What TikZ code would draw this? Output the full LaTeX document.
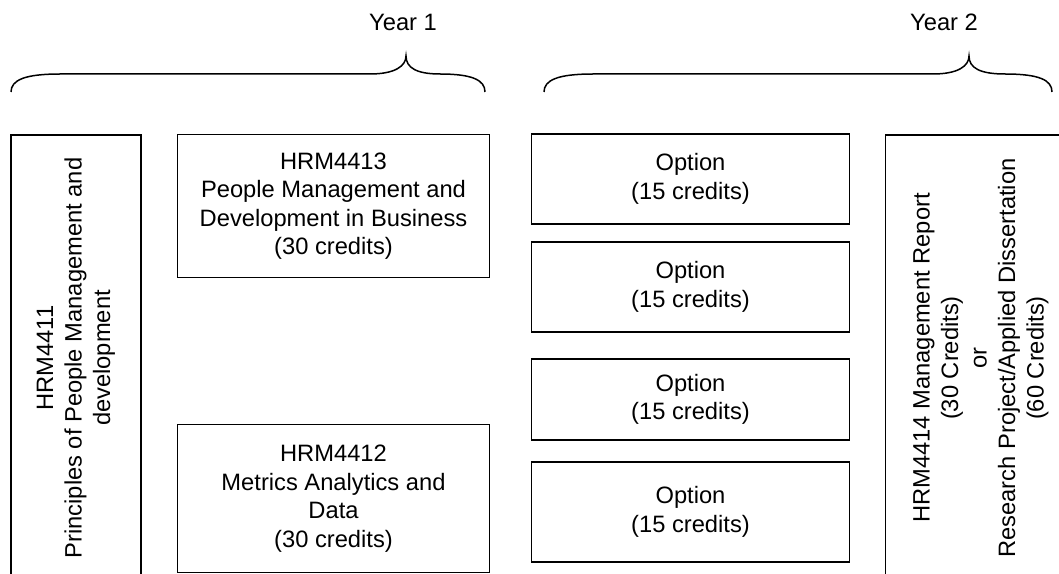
\documentclass[tikz,border=0pt]{standalone}
\usepackage{fontspec}
\setmainfont{Liberation Sans}
\begin{document}
\begin{tikzpicture}[x=1bp,y=-1bp,
  txt/.style={font=\fontsize{23.8}{28.6}\selectfont, align=center, inner sep=0pt},
  box/.style={txt, draw, line width=1.5bp},
  brace/.style={draw, line width=1.5bp}]
\useasboundingbox (0,0) rectangle (1059,574);
% year labels
\node[txt] (y1) at (403,22) {Year 1};
\node[txt] (y2) at (944,22) {Year 2};
% braces
\path[brace] (11,92) .. controls (11,80) and (25,74) .. (60,74) -- (370,74)
  .. controls (395,74) and (406,66) .. (406,56)
  .. controls (406,68) and (417,74) .. (440,74)
  .. controls (472,74) and (485,80) .. (485,92);
\path[brace] (544,92) .. controls (544,80) and (558,74) .. (593,74) -- (933,74)
  .. controls (958,74) and (969,66) .. (969,56)
  .. controls (969,68) and (980,74) .. (1005,74)
  .. controls (1039,74) and (1052,80) .. (1052,92);
% tall boxes (cut by the picture edge)
\begin{scope}
\clip (0,0) rectangle (1059,574);
\node[box, rotate=90, minimum width=448, minimum height=130] (m4411) at (76,358)
  {HRM4411\\Principles of People Management and\\development};
\node[box, rotate=90, minimum width=448, minimum height=192] (m4414) at (981,358)
  {HRM4414 Management Report\\(30 Credits)\\or\\Research Project/Applied Dissertation\\(60 Credits)};
\end{scope}
% year 1 modules
\node[box, minimum width=313, minimum height=144] (m4413) at (333.5,206)
  {HRM4413\\People Management and\\Development in Business\\(30 credits)};
\node[box, minimum width=313, minimum height=149] (m4412) at (333.5,498.5)
  {HRM4412\\Metrics Analytics and\\Data\\(30 credits)};
% options
\node[box, minimum width=319, minimum height=90] (o1) at (690.5,179) {Option\\(15 credits)};
\node[box, minimum width=319, minimum height=90] (o2) at (690.5,287) {Option\\(15 credits)};
\node[box, minimum width=319, minimum height=81] (o3) at (690.5,399.5) {Option\\(15 credits)};
\node[box, minimum width=319, minimum height=100] (o4) at (690.5,512) {Option\\(15 credits)};
\end{tikzpicture}
\end{document}
